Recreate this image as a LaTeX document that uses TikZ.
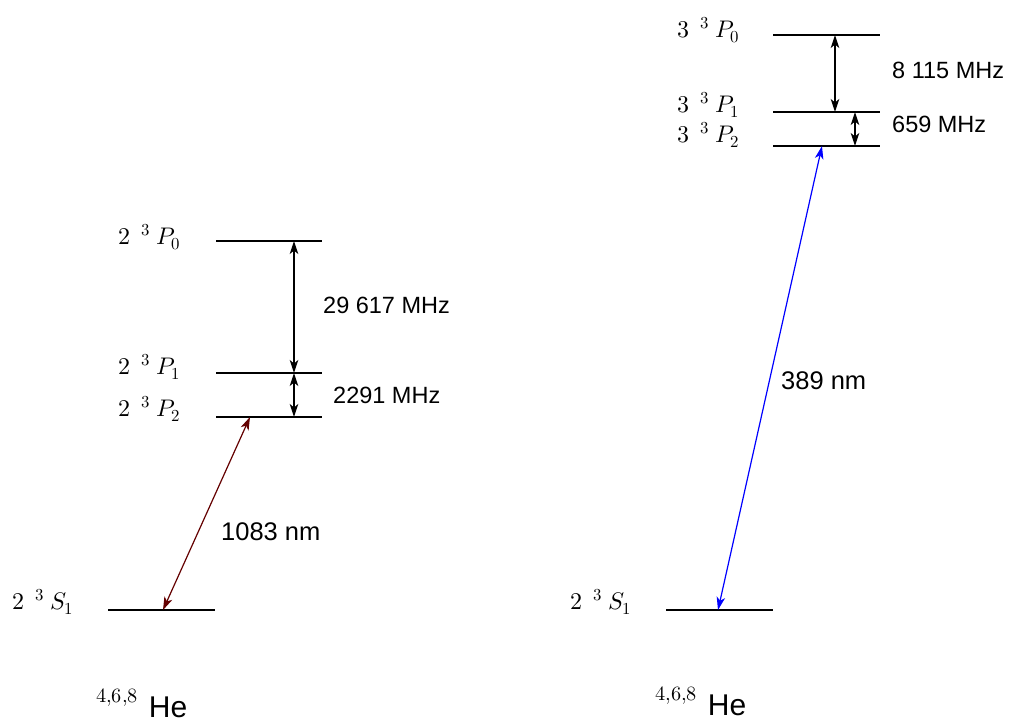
\documentclass[tikz,border=0pt]{standalone}
\usepackage{fontspec}
\usepackage{unicode-math}
\setmathfont{Latin Modern Math}
\setsansfont{Liberation Sans}
\usetikzlibrary{arrows.meta}
\definecolor{irred}{RGB}{100,0,0}
\newcommand{\lvl}[3]{$#1\hspace{11pt}{}^{3}\hspace{6pt}#2_{#3}$}
\newcommand{\isotope}{\raisebox{15pt}{\fontsize{29}{29}\selectfont$\scriptstyle 4,6,8$}\hspace{11pt}{\sffamily\fontsize{30}{30}\selectfont He}}
\begin{document}
\begin{tikzpicture}[x=1pt,y=-1pt,
  gap/.style={line width=1.2pt,{Stealth[length=13pt,width=8.5pt,inset=3.5pt]}-{Stealth[length=13pt,width=8.5pt,inset=3.5pt]}},
  trans/.style={line width=1.2pt,{Stealth[length=13pt,width=8.5pt,inset=3.5pt]}-{Stealth[length=13pt,width=8.5pt,inset=3.5pt]}},
  level/.style={line width=1.9pt},
  term/.style={anchor=base west,inner sep=0pt,font=\fontsize{24}{24}\selectfont},
  freq/.style={anchor=base west,inner sep=0pt,font=\sffamily\fontsize{23.5}{24}\selectfont},
  wave/.style={anchor=base west,inner sep=0pt,font=\sffamily\fontsize{25.5}{26}\selectfont},
  iso/.style={anchor=base west,inner sep=0pt}]
\useasboundingbox (0,0) rectangle (1015,723);
% ---- left: 2 3P levels ----
\coordinate (LP0a) at (216,241); \coordinate (LP0b) at (322,241);
\coordinate (LP1a) at (216,373); \coordinate (LP1b) at (322,373);
\coordinate (LP2a) at (216,417); \coordinate (LP2b) at (322,417);
\coordinate (LSa) at (108,610); \coordinate (LSb) at (215,610);
\draw[level] (LP0a) -- (LP0b);
\draw[level] (LP1a) -- (LP1b);
\draw[level] (LP2a) -- (LP2b);
\draw[level] (LSa) -- (LSb);
\coordinate (LgA) at (294,241); \coordinate (LgB) at (294,373); \coordinate (LgC) at (294,417);
\draw[gap] (LgA) -- (LgB);
\draw[gap] (LgB) -- (LgC);
\coordinate (LtA) at (163,610); \coordinate (LtB) at (250,417);
\draw[trans,irred] (LtA) -- (LtB);
\node[term] (lP0) at (118,244) {\lvl{2}{P}{0}};
\node[term] (lP1) at (118,374) {\lvl{2}{P}{1}};
\node[term] (lP2) at (118,416) {\lvl{2}{P}{2}};
\node[term] (lS1) at (12,609) {\lvl{2}{S}{1}};
\node[freq] (f1) at (323,313) {29 617 MHz};
\node[freq] (f2) at (333,403) {2291 MHz};
\node[wave] (w1) at (221,540) {1083 nm};
\node[iso] (he1) at (96,717) {\isotope};
% ---- right: 3 3P levels ----
\coordinate (RP0a) at (773,35); \coordinate (RP0b) at (880,35);
\coordinate (RP1a) at (773,112); \coordinate (RP1b) at (880,112);
\coordinate (RP2a) at (773,146); \coordinate (RP2b) at (880,146);
\coordinate (RSa) at (666,610); \coordinate (RSb) at (773,610);
\draw[level] (RP0a) -- (RP0b);
\draw[level] (RP1a) -- (RP1b);
\draw[level] (RP2a) -- (RP2b);
\draw[level] (RSa) -- (RSb);
\coordinate (RgA) at (835,35); \coordinate (RgB) at (835,112);
\coordinate (RgC) at (855,112); \coordinate (RgD) at (855,146);
\draw[gap] (RgA) -- (RgB);
\draw[gap] (RgC) -- (RgD);
\coordinate (RtA) at (718,610); \coordinate (RtB) at (822,146);
\draw[trans,blue] (RtA) -- (RtB);
\node[term] (rP0) at (677,37) {\lvl{3}{P}{0}};
\node[term] (rP1) at (677,112) {\lvl{3}{P}{1}};
\node[term] (rP2) at (677,142) {\lvl{3}{P}{2}};
\node[term] (rS1) at (570,609) {\lvl{2}{S}{1}};
\node[freq] (f3) at (892,78) {8 115 MHz};
\node[freq] (f4) at (892,132) {659 MHz};
\node[wave] (w2) at (781,389) {389 nm};
\node[iso] (he2) at (655,715) {\isotope};
\end{tikzpicture}
\end{document}
